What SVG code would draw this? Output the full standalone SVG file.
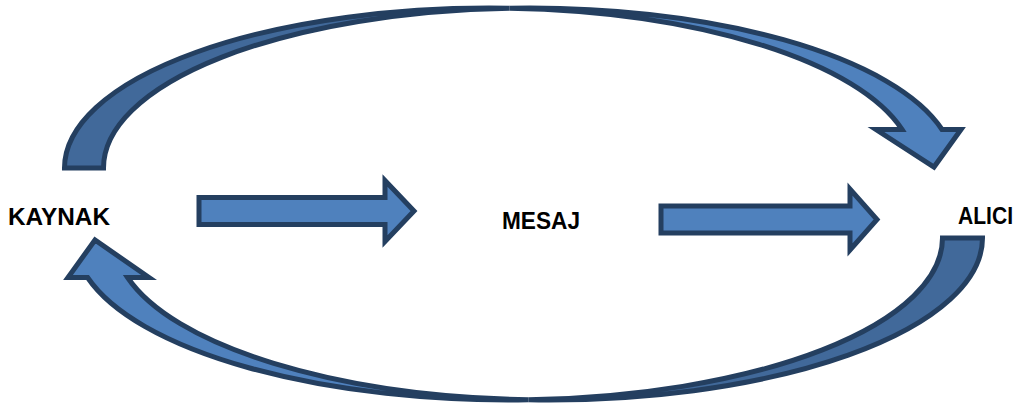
<svg xmlns="http://www.w3.org/2000/svg" width="1023" height="412" viewBox="0 0 1023 412">
<style>
.front{fill:#4F81BD;stroke:#243F60;stroke-width:5;stroke-linejoin:miter}
.back{fill:#41699A;stroke:#243F60;stroke-width:5;stroke-linejoin:miter}
.lbl{font-family:"Liberation Sans",Arial,sans-serif;font-weight:bold;font-size:23.5px;fill:#000}
</style>
<rect width="1023" height="412" fill="#fff"/>
<g id="connectors">
<g id="top-curved-arrow">
<path class="back" d="M64.5,168 A425,160 0 0 1 509.5,8.2 A425,160 0 0 0 103.5,168 Z"/>
<path class="front" d="M509.5,8.2 A425,160 0 0 1 942,129.5 L961,129.5 L934,167 L876,129.5 L902,129.5 A425,160 0 0 0 509.5,8.2 Z"/>
</g>
<g id="bottom-curved-arrow">
<path class="back" d="M982.5,238 A434,162 0 0 1 528.5,399.8 A434,162 0 0 0 942.5,238 Z"/>
<path class="front" d="M528.5,399.8 A434,162 0 0 1 87.6,277.5 L68,277.5 L95,240 L149,277.5 L127.6,277.5 A434,162 0 0 0 528.5,399.8 Z"/>
</g>
<path id="arrow-kaynak-mesaj" class="front" d="M199,197.5 L385,197.5 L385,180.5 L414,211 L385,241.5 L385,224.5 L199,224.5 Z"/>
<path id="arrow-mesaj-alici" class="front" d="M661,206 L850,206 L850,189 L877,219.5 L850,250 L850,233 L661,233 Z"/>
</g>
<g id="kaynak"><text class="lbl" x="8" y="225" textLength="102" lengthAdjust="spacingAndGlyphs">KAYNAK</text></g>
<g id="mesaj"><text class="lbl" x="502" y="229" textLength="78" lengthAdjust="spacingAndGlyphs">MESAJ</text></g>
<g id="alici"><text class="lbl" x="958" y="224" textLength="55" lengthAdjust="spacingAndGlyphs">ALICI</text></g>
</svg>
